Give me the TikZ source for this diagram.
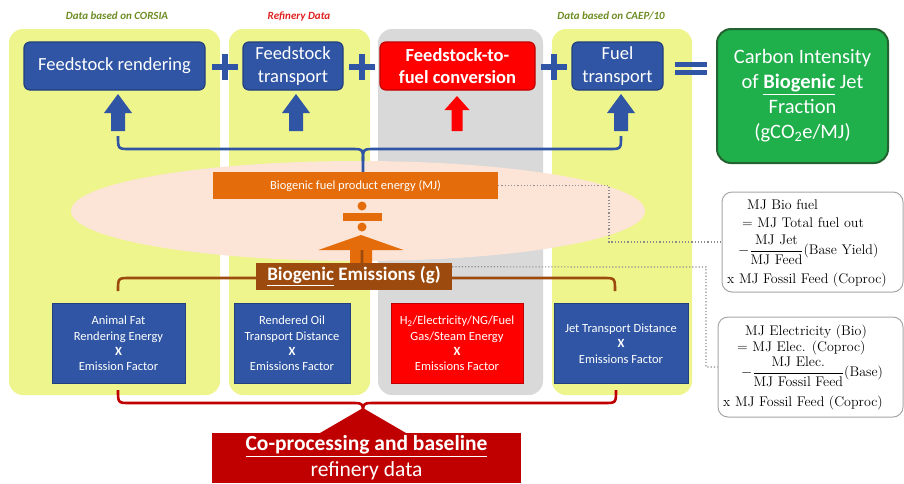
\documentclass[tikz,border=0pt]{standalone}
\usepackage{fontspec}
\setsansfont{Carlito}
\usetikzlibrary{calc}
\definecolor{panelY}{HTML}{EEF58C}
\definecolor{panelG}{HTML}{D9D9D9}
\definecolor{boxBlue}{HTML}{2F55A4}
\definecolor{boxBlueD}{HTML}{223F7E}
\definecolor{boxRed}{HTML}{FF0000}
\definecolor{boxRedD}{HTML}{C00000}
\definecolor{orangeB}{HTML}{E46C0A}
\definecolor{peach}{HTML}{FCE4D6}
\definecolor{brownB}{HTML}{9C4A0E}
\definecolor{darkRed}{HTML}{C00000}
\definecolor{greenB}{HTML}{1FAF4B}
\definecolor{greenD}{HTML}{24622F}
\definecolor{olive}{HTML}{6E8C22}
\definecolor{hdrRed}{HTML}{E02020}
\definecolor{dotgray}{HTML}{8C8C8C}
\newcommand\plussign[2]{%
  \fill[boxBlue] (#1-13,#2-3.2) rectangle (#1+13,#2+3.2);
  \fill[boxBlue] (#1-3.2,#2-13) rectangle (#1+3.2,#2+13);}
\newcommand\blockup[7]{%
  \fill[#1] (#2,#3) -- (#2+#6,#4) -- (#2+#7,#4) -- (#2+#7,#5) -- (#2-#7,#5) -- (#2-#7,#4) -- (#2-#6,#4) -- cycle;}
\tikzset{
  topbox/.style={draw=boxBlueD, line width=1.2pt, fill=boxBlue, rounded corners=6pt, text=white,
    font=\sffamily\fontsize{18.5}{23}\selectfont, align=center, inner sep=0pt, minimum height=48pt},
  redtop/.style={topbox, fill=boxRed, draw=boxRedD, font=\sffamily\bfseries\fontsize{18.5}{22}\selectfont},
  lowbox/.style={draw=boxBlueD, line width=0.8pt, fill=boxBlue, text=white,
    font=\sffamily\fontsize{12.5}{15.3}\selectfont, align=center, inner sep=0pt, minimum height=80pt},
  lowred/.style={lowbox, fill=boxRed, draw=boxRedD},
  fm/.style={font=\rmfamily\fontsize{14}{16}\selectfont, inner sep=0pt, anchor=west, text=black},
  fbox/.style={draw=gray!70, line width=1pt, rounded corners=10pt, fill=white},
  dotline/.style={draw=dotgray, line width=1.2pt, dotted},
  hdr/.style={font=\sffamily\bfseries\itshape\fontsize{11}{13}\selectfont},
  bluebrace/.style={draw=boxBlue, line width=2.6pt},
  brownbrace/.style={draw=brownB, line width=2.6pt},
  redbrace/.style={draw=darkRed, line width=2.6pt},
}
\begin{document}
\begin{tikzpicture}[x=1pt,y=-1pt]
\useasboundingbox (0,0) rectangle (904,483);
% panels
\fill[panelY, rounded corners=14pt] (9,29) rectangle (220,395);
\fill[panelY, rounded corners=14pt] (229,29) rectangle (370,395);
\fill[panelG, rounded corners=14pt] (378,29) rectangle (543,395);
\fill[panelY, rounded corners=14pt] (552,29) rectangle (692,395);
% headers
\node[hdr, text=olive] (h1) at (117,16) {Data based on CORSIA};
\node[hdr, text=hdrRed] (h2) at (299,16) {Refinery Data};
\node[hdr, text=olive] (h3) at (611,16) {Data based on CAEP/10};
% top boxes
\node[topbox, minimum width=181pt] (tb1) at (114.5,66) {Feedstock rendering};
\node[topbox, minimum width=100pt] (tb2) at (293,66) {Feedstock\\transport};
\node[redtop, minimum width=155pt] (tb3) at (457.5,66) {Feedstock-to-\\fuel conversion};
\node[topbox, minimum width=91pt] (tb4) at (617.5,66) {Fuel\\transport};
\node[draw=greenD, line width=2pt, fill=greenB, rounded corners=14pt, text=white, align=center,
  font=\sffamily\fontsize{20.5}{25}\selectfont, minimum width=171pt, minimum height=134pt, inner sep=0pt]
  (ci) at (802.5,96) {Carbon Intensity\\of \underline{\textbf{Biogenic}} Jet\\Fraction\\(gCO\textsubscript{2}e/MJ)};
% operators
\plussign{225}{67}
\plussign{362}{67}
\plussign{554}{67}
\fill[boxBlue] (675,62) rectangle (707,67);
\fill[boxBlue] (675,70) rectangle (707,75);
% up arrows
\blockup{boxBlue}{118}{94}{113}{131}{14}{7}
\blockup{boxBlue}{296}{94}{113}{131}{14}{7}
\blockup{boxRed}{457}{96}{110}{131}{12.5}{5.5}
\blockup{boxBlue}{621}{94}{113}{131}{14}{7}
% ellipse
\fill[peach] (358,211) ellipse [x radius=287pt, y radius=50pt];
% orange box
\node[fill=orangeB, text=white, minimum width=285pt, minimum height=27pt, inner sep=0pt,
  font=\sffamily\fontsize{12.5}{14}\selectfont] (orng) at (355.5,185.5) {Biogenic fuel product energy (MJ)};
% blue brace
\coordinate (bl) at (118,136);
\coordinate (br) at (621,136);
\draw[bluebrace] (bl) .. controls (118,149) .. (130,149) -- (351,149) .. controls (363,149) .. (363,161) -- (363,161 |- orng.north);
\draw[bluebrace] (br) .. controls (621,149) .. (609,149) -- (375,149) .. controls (363,149) .. (363,161);
% division sign
\fill[orangeB] (362,206) circle (4.5pt);
\fill[orangeB] (362,227) circle (4.5pt);
\fill[orangeB] (343,213) rectangle (382,221);
% orange arrow
\blockup{orangeB}{361}{235}{250}{263}{42.5}{11}
% brown brace
\draw[brownbrace] (118,291) .. controls (118,278) .. (130,278) -- (350,278) .. controls (362,278) .. (362,266) -- (362,250);
\draw[brownbrace] (615,291) .. controls (615,278) .. (603,278) -- (374,278) .. controls (362,278) .. (362,266);
% emissions box
\node[fill=brownB, text=white, minimum width=196pt, minimum height=27pt, inner sep=0pt,
  font=\sffamily\bfseries\fontsize{19}{21}\selectfont] (emis) at (354,276.5) {\underline{Biogenic} Emissions (g)};
% bottom boxes
\node[lowbox, minimum width=133pt] (bb1) at (118.5,343.5) {Animal Fat\\Rendering Energy\\\textbf{X}\\Emission Factor};
\node[lowbox, minimum width=116pt] (bb2) at (292,343.5) {Rendered Oil\\Transport Distance\\\textbf{X}\\Emissions Factor};
\node[lowred, minimum width=132pt] (bb3) at (457,343.5) {H\textsubscript{2}/Electricity/NG/Fuel\\Gas/Steam Energy\\\textbf{X}\\Emissions Factor};
\node[lowbox, minimum width=134pt] (bb4) at (621,343.5) {Jet Transport Distance\\\textbf{X}\\Emissions Factor};
% red brace
\draw[redbrace] (118,390) .. controls (118,403) .. (130,403) -- (351,403) .. controls (363,403) .. (363,415);
\draw[redbrace] (616,390) .. controls (616,403) .. (604,403) -- (375,403) .. controls (363,403) .. (363,415);
% co-processing
\fill[darkRed] (320,433) -- (363,408) -- (406,433) -- cycle;
\node[fill=darkRed, text=white, minimum width=309pt, minimum height=50pt, inner sep=0pt, align=center,
  font=\sffamily\fontsize{21.5}{26}\selectfont] (cop) at (366.5,458)
  {\underline{\textbf{Co-processing and baseline}}\\refinery data};
% formula boxes
\node[fbox, minimum width=181pt, minimum height=100pt] (fA) at (812.5,242) {};
\node[fbox, minimum width=185pt, minimum height=100pt] (fB) at (810.5,367) {};
\node[fm] (fa1) at (747,205) {MJ Bio fuel};
\node[fm] (fa2) at (742,223) {= MJ Total fuel out};
\node[fm] (fa3) at (738,250) {$-\displaystyle\frac{\mbox{MJ Jet}}{\mbox{MJ Feed}}$(Base Yield)};
\node[fm] (fa4) at (727,280) {x MJ Fossil Feed (Coproc)};
\node[fm] (fb1) at (745,332) {MJ Electricity (Bio)};
\node[fm] (fb2) at (737,348) {= MJ Elec. (Coproc)};
\node[fm] (fb3) at (741,372) {$-\displaystyle\frac{\mbox{MJ Elec.}}{\mbox{MJ Fossil Feed}}$(Base)};
\node[fm] (fb4) at (723,403) {x MJ Fossil Feed (Coproc)};
% dotted connectors
\draw[dotline] (orng.east) -- (609,185.5) |- (fA.west);
\draw[dotline] ($(emis.north east)+(0,4)$) -- (706,267) |- (fB.west);
\end{tikzpicture}
\end{document}
